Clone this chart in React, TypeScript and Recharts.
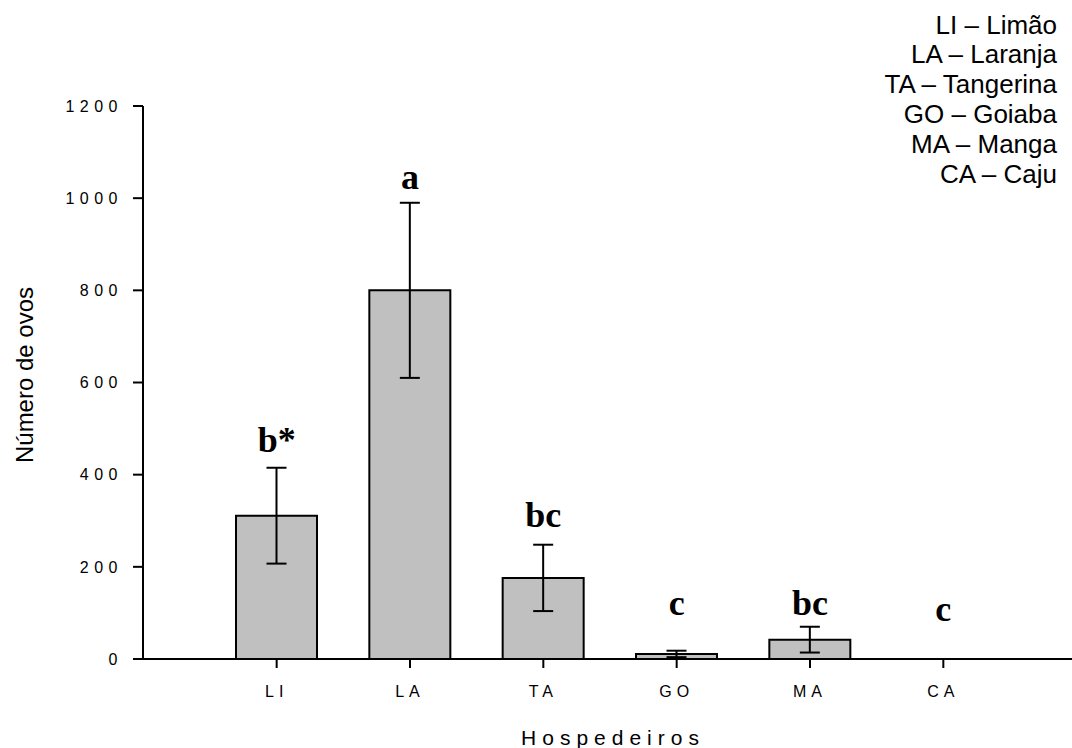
import { ComposedChart, Bar, Scatter, ErrorBar, XAxis, YAxis } from 'recharts';

const hosts = ['LI', 'LA', 'TA', 'GO', 'MA', 'CA'];
const eggs = [311, 800, 176, 11, 42, 0];
const eggsErr = [104, 190, 72, 7, 28, 0];
const letters = ['b*', 'a', 'bc', 'c', 'bc', 'c'];
// height (in eggs) where each letter's baseline sits
const letterAt = [450, 1020, 286, 95, 95, 83];
const yTicks = [0, 200, 400, 600, 800, 1000, 1200];
const legendLines = [
  'LI – Limão',
  'LA – Laranja',
  'TA – Tangerina',
  'GO – Goiaba',
  'MA – Manga',
  'CA – Caju',
];

const data = hosts.map((h, i) => ({
  name: h,
  eggs: eggs[i],
  err: eggsErr[i],
  letter: letters[i],
  letterAt: letterAt[i],
}));

const sans = '"Liberation Sans", Arial, sans-serif';

function LetterShape(props: any) {
  const { cx, cy, payload } = props;
  return (
    <text
      x={cx}
      y={cy}
      textAnchor="middle"
      fontFamily='"Liberation Serif", "Times New Roman", serif'
      fontWeight="bold"
      fontSize={36}
      fill="#000"
    >
      {payload.letter}
    </text>
  );
}

export default function App() {
  return (
    <div
      style={{
        position: 'relative',
        width: 1072,
        height: 748,
        background: '#fff',
        overflow: 'hidden',
      }}
    >
      <style>{'html,body{margin:0;overflow:hidden}'}</style>
      <ComposedChart
        width={1072}
        height={748}
        data={data}
        margin={{ top: 106, right: 0, bottom: 0, left: 0 }}
      >
        <XAxis
          dataKey="name"
          height={89}
          padding={{ left: 67, right: 62 }}
          axisLine={{ stroke: '#000', strokeWidth: 2 }}
          tickLine={{ stroke: '#000', strokeWidth: 2 }}
          tickSize={9}
          tickMargin={18}
          tick={{ fill: '#000', fontSize: 16, fontFamily: sans, letterSpacing: 5 }}
        />
        <YAxis
          width={143}
          domain={[0, 1200]}
          ticks={yTicks}
          interval={0}
          axisLine={{ stroke: '#000', strokeWidth: 2 }}
          tickLine={{ stroke: '#000', strokeWidth: 2 }}
          tickSize={10}
          tickMargin={10}
          tick={{ fill: '#000', fontSize: 16, fontFamily: sans, letterSpacing: 5.5 }}
        />
        <Bar
          dataKey="eggs"
          barSize={81}
          fill="#c0c0c0"
          stroke="#000"
          strokeWidth={2}
          isAnimationActive={false}
        >
          <ErrorBar dataKey="err" width={10} stroke="#000" strokeWidth={2} />
        </Bar>
        <Scatter dataKey="letterAt" shape={<LetterShape />} isAnimationActive={false} />
      </ComposedChart>
      <svg
        width={1072}
        height={748}
        style={{ position: 'absolute', left: 0, top: 0, pointerEvents: 'none' }}
      >
        <text
          transform="translate(33,375) rotate(-90)"
          textAnchor="middle"
          fontFamily={sans}
          fontSize={24}
          fill="#000"
        >
          Número de ovos
        </text>
        <text
          x={613}
          y={745}
          textAnchor="middle"
          fontFamily={sans}
          fontSize={21}
          letterSpacing={6}
          fill="#000"
        >
          Hospedeiros
        </text>
        {legendLines.map((line, i) => (
          <text
            key={line}
            x={1057}
            y={33.5 + i * 29.9}
            textAnchor="end"
            fontFamily={sans}
            fontSize={26}
            fill="#000"
          >
            {line}
          </text>
        ))}
      </svg>
    </div>
  );
}
